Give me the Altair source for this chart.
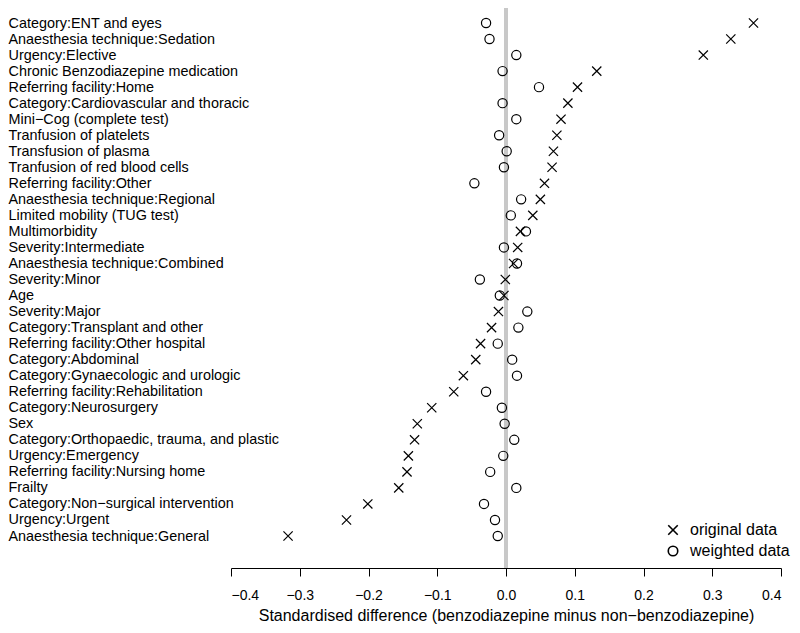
import altair as alt
import pandas as pd

labels = [
    "Category:ENT and eyes",
    "Anaesthesia technique:Sedation",
    "Urgency:Elective",
    "Chronic Benzodiazepine medication",
    "Referring facility:Home",
    "Category:Cardiovascular and thoracic",
    "Mini−Cog (complete test)",
    "Tranfusion of platelets",
    "Transfusion of plasma",
    "Tranfusion of red blood cells",
    "Referring facility:Other",
    "Anaesthesia technique:Regional",
    "Limited mobility (TUG test)",
    "Multimorbidity",
    "Severity:Intermediate",
    "Anaesthesia technique:Combined",
    "Severity:Minor",
    "Age",
    "Severity:Major",
    "Category:Transplant and other",
    "Referring facility:Other hospital",
    "Category:Abdominal",
    "Category:Gynaecologic and urologic",
    "Referring facility:Rehabilitation",
    "Category:Neurosurgery",
    "Sex",
    "Category:Orthopaedic, trauma, and plastic",
    "Urgency:Emergency",
    "Referring facility:Nursing home",
    "Frailty",
    "Category:Non−surgical intervention",
    "Urgency:Urgent",
    "Anaesthesia technique:General",
]

original = [0.360, 0.327, 0.287, 0.132, 0.104, 0.090, 0.080, 0.074, 0.069, 0.067,
            0.056, 0.050, 0.039, 0.021, 0.017, 0.011, -0.001, -0.003, -0.011, -0.021,
            -0.037, -0.044, -0.062, -0.076, -0.108, -0.129, -0.133, -0.142, -0.144,
            -0.156, -0.201, -0.232, -0.317]

weighted = [-0.029, -0.024, 0.015, -0.005, 0.048, -0.005, 0.015, -0.010, 0.001, -0.003,
            -0.046, 0.022, 0.007, 0.029, -0.003, 0.016, -0.038, -0.009, 0.031, 0.018,
            -0.012, 0.009, 0.016, -0.029, -0.006, -0.002, 0.012, -0.004, -0.023, 0.015,
            -0.032, -0.016, -0.012]

series_names = ["original data", "weighted data"]
x_ticks = [-0.4, -0.3, -0.2, -0.1, 0.0, 0.1, 0.2, 0.3, 0.4]

rows = []
for lab, o, w in zip(labels, original, weighted):
    rows.append({"label": lab, "value": o, "type": series_names[0]})
    rows.append({"label": lab, "value": w, "type": series_names[1]})
df = pd.DataFrame(rows)

FONT = "Liberation Sans"
XPATH = "M-1,-1L1,1M-1,1L1,-1"

xscale = alt.Scale(domain=[-0.4, 0.4], nice=False, zero=False)

zero_line = alt.Chart(pd.DataFrame({"zero": [0.0]})).mark_rule(
    color="#c8c8c8", strokeWidth=4
).encode(x=alt.X("zero:Q", scale=xscale))

points = alt.Chart(df).mark_point(
    filled=False, color="black", strokeWidth=1.2, size=85, opacity=1
).encode(
    x=alt.X(
        "value:Q",
        scale=xscale,
        axis=alt.Axis(
            values=x_ticks,
            labelExpr="replace(format(datum.value, '.1f'), '-', '−')",
            title="Standardised difference (benzodiazepine minus non−benzodiazepine)",
            grid=False,
            domainColor="black",
            tickColor="black",
            tickSize=8,
            labelPadding=12,
            labelFontSize=14,
            labelColor="black",
            labelFont=FONT,
            titleFont=FONT,
            titleFontSize=16,
            titleFontWeight="normal",
            titleColor="black",
            titlePadding=5,
        ),
    ),
    y=alt.Y(
        "label:N",
        sort=labels,
        scale=alt.Scale(type="point", range=[15, 528], padding=0),
        axis=alt.Axis(
            title=None,
            domain=False,
            ticks=False,
            grid=False,
            labelAlign="left",
            labelBaseline="middle",
            labelPadding=223,
            labelLimit=400,
            labelOverlap=False,
            labelFontSize=14.4,
            labelColor="black",
            labelFont=FONT,
        ),
    ),
    shape=alt.Shape(
        "type:N",
        scale=alt.Scale(domain=series_names, range=[XPATH, "circle"]),
        legend=alt.Legend(
            title=None,
            orient="none",
            legendX=434,
            legendY=514,
            padding=0,
            labelFontSize=16,
            labelFont=FONT,
            labelColor="black",
            labelOffset=9,
            rowPadding=5,
            symbolSize=90,
            symbolStrokeColor="black",
            symbolFillColor="transparent",
            symbolStrokeWidth=1.6,
        ),
    ),
)

chart = alt.layer(zero_line, points).properties(
    width=550,
    height=560,
    autosize=alt.AutoSizeParams(type="none"),
    padding={"left": 223, "top": 0, "right": 11, "bottom": 56},
).configure(font=FONT).configure_view(stroke=None)

chart.save("out.html", embed_options={"renderer": "svg", "actions": False})
